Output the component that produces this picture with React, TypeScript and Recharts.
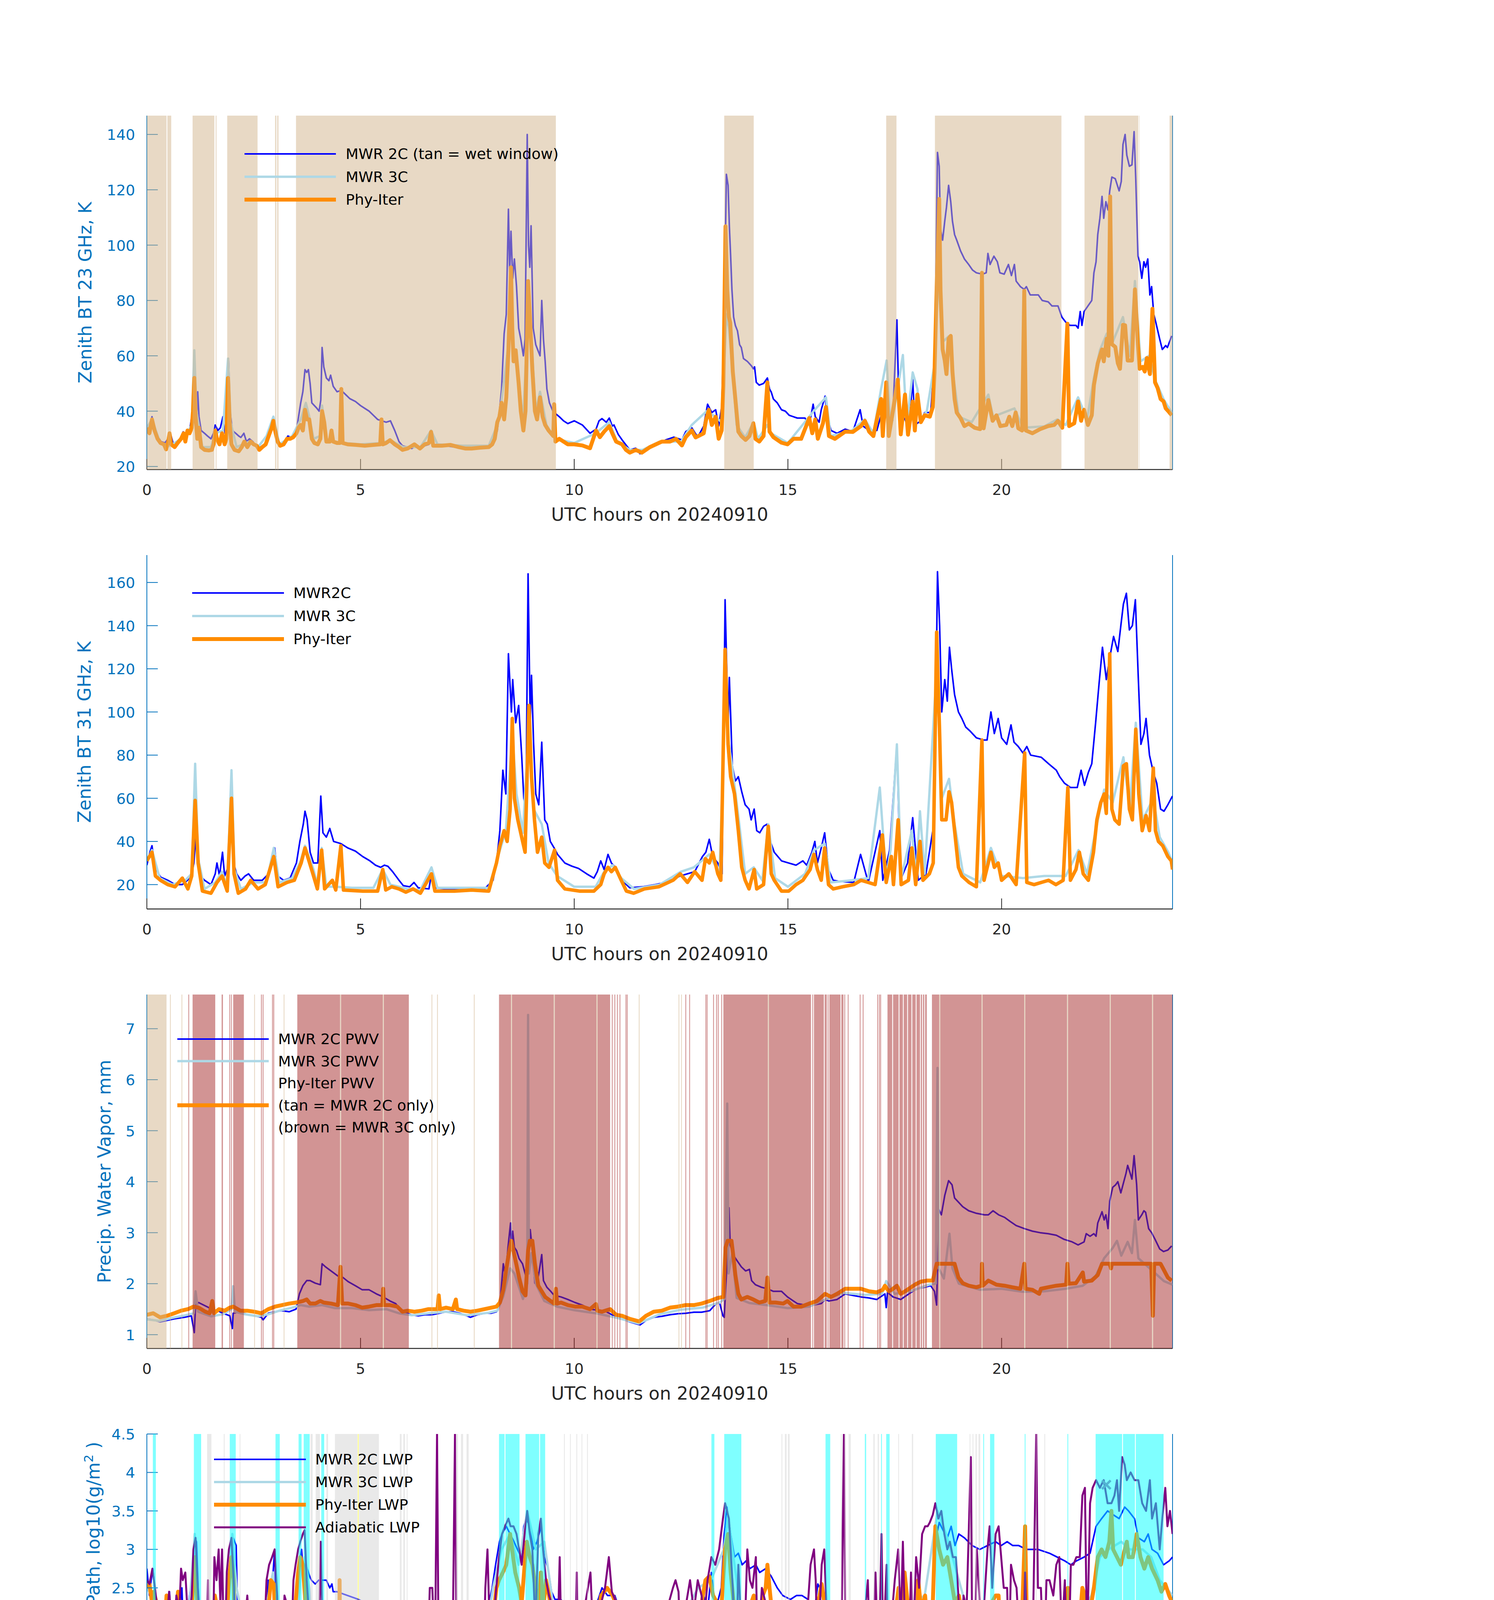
import React from "react";
import {
  ComposedChart,
  Line,
  Scatter,
  XAxis,
  YAxis,
  ReferenceArea,
  ReferenceLine,
} from "recharts";

// ---- page geometry (px) ----
const W = 3825;
const LEFT = 376;
const RIGHT_EDGE = 3002;
const TOP = 296;
const PLOT_H = 906;
const STEP = 1125;
const CHART_H = 1420;
const BOTTOM = TOP + PLOT_H;
const Y_AXIS_W = 100;
const X_AXIS_H = 100;
const MARGIN = { top: TOP, left: LEFT - Y_AXIS_W, right: W - RIGHT_EDGE, bottom: CHART_H - TOP - PLOT_H - X_AXIS_H };
const OVERLAY_MARGIN = { top: TOP, left: LEFT, right: W - RIGHT_EDGE, bottom: CHART_H - TOP - PLOT_H };

const AXIS_BLUE = "#0072BD";
const DARK = "#262626";
const BLUE = "#0000FF";
const LIGHT = "#ADD8E6";
const ORANGE = "#FF8C00";
const PURPLE = "#800080";
const FONT = "DejaVu Sans";

const X_TICKS = [0, 5, 10, 15, 20];

// ---- panel 1: zenith BT 23 GHz ----
const BT23_TICKS = [20, 40, 60, 80, 100, 120, 140];
const BT23_MWR2C: [number, number][] = [
  [0,34.5],[0.06,33],[0.12,38],[0.18,33],[0.25,31],[0.33,29],[0.42,28.5],[0.5,30],[0.55,32],[0.62,28],[0.7,27.5],[0.78,30],[0.85,32.5],[0.92,31],[1.0,33],[1.05,38],[1.11,45],[1.16,35],[1.19,47],[1.22,38],[1.27,33],[1.35,32],[1.42,31],[1.5,30],[1.56,32],[1.6,35],[1.66,33],[1.72,34],[1.78,38],[1.83,32],[1.88,34],[1.91,59],[1.95,40],[2.0,33],[2.08,32],[2.15,31],[2.2,30.5],[2.27,32],[2.33,29],[2.4,30],[2.48,29],[2.55,27.5],[2.62,27],[2.7,27],[2.77,28],[2.84,31],[2.9,34],[2.96,38],[3.02,33],[3.08,29],[3.15,27.5],[3.22,29],[3.3,31],[3.38,30.5],[3.45,31],[3.5,33],[3.55,38],[3.6,43],[3.65,47],[3.7,55],[3.74,54],[3.78,55],[3.82,50],[3.86,43],[3.92,42],[3.98,41],[4.03,40],[4.07,44],[4.1,63],[4.14,56],[4.2,52],[4.26,51],[4.3,53],[4.36,49],[4.45,47],[4.55,47.5],[4.65,46],[4.75,44.5],[4.88,43.5],[5.0,42],[5.1,41],[5.2,40],[5.3,38.5],[5.4,37],[5.5,36.5],[5.6,36],[5.7,36.5],[5.8,33],[5.9,29],[5.98,27.5],[6.1,27],[6.2,26.5],[6.3,27.5],[6.4,26.5],[6.5,27.5],[6.6,28],[6.65,32.5],[6.7,28],[6.8,27.5],[7.0,27.5],[7.2,27],[7.4,27.5],[7.6,26.5],[7.8,27],[8.0,27],[8.1,28],[8.2,33],[8.25,40],[8.3,48],[8.36,68],[8.41,75],[8.46,113],[8.49,90],[8.52,105],[8.56,88],[8.6,95],[8.65,85],[8.7,70],[8.75,66],[8.81,60],[8.85,66],[8.9,140],[8.93,100],[8.96,92],[8.99,107],[9.04,70],[9.1,64],[9.15,62],[9.2,60],[9.24,80],[9.28,66],[9.32,58],[9.36,48],[9.42,43],[9.5,40],[9.57,39],[9.65,38],[9.75,36.5],[9.85,35.5],
  [10,36.5],[10.19,35],[10.37,32],[10.51,33.5],[10.58,36.5],[10.65,37.3],[10.75,36],[10.82,37.5],[10.89,34.6],[10.93,35],[11.03,31.6],[11.12,29.6],[11.21,27.8],[11.3,26],[11.44,26.6],[11.54,24.6],[11.68,26],[11.96,28],[12.14,29.6],[12.33,30.6],[12.52,29.6],[12.61,32.6],[12.75,34],[12.89,30.6],[13.03,34.6],[13.12,42.5],[13.22,39.5],[13.31,40.5],[13.38,34.6],[13.45,41.5],[13.48,58],[13.52,84],[13.56,125.6],[13.6,121.6],[13.63,106.8],[13.66,96],[13.69,84],[13.73,74],[13.77,71],[13.82,69],[13.87,64],[13.91,63],[13.96,59],[14.05,58],[14.15,56.3],[14.19,55.3],[14.22,56],[14.26,50.4],[14.33,49.4],[14.43,50],[14.52,52],[14.57,48],[14.61,46.9],[14.66,44.4],[14.75,43],[14.85,40.5],[14.94,40],[15.03,38.5],[15.22,37.5],[15.4,37.5],[15.5,35],[15.59,42.5],[15.64,38],[15.73,36],[15.78,40.5],[15.87,45.4],[15.92,38],[16.01,33],[16.15,32],[16.34,33.5],[16.52,32.6],[16.69,40.5],[16.76,34.6],[16.9,33],[17.08,33],[17.17,38],[17.27,46],[17.36,40],[17.45,36.5],[17.55,73],[17.6,40],[17.74,37],[17.83,33.5],[17.92,51.4],[17.97,35],[18.11,36.5],[18.2,39.5],[18.34,39.5],[18.41,54.3],[18.46,84],[18.5,133.5],[18.54,128.5],[18.57,105.8],[18.62,101.8],[18.67,108.7],[18.71,113.7],[18.76,121.6],[18.81,115.7],[18.85,108.7],[18.9,103.8],[18.95,101.8],[19.04,97.9],[19.13,95],[19.23,93],[19.32,91],[19.41,90],[19.55,89.5],[19.64,90],[19.68,97],[19.73,93],[19.82,96],[19.9,94],[19.96,90],[20.06,89.5],[20.16,93],[20.23,89],[20.3,93],[20.34,87],[20.44,85],[20.53,84],[20.58,85],[20.67,82],[20.86,82],[20.95,80],[21.09,79.5],[21.18,78],[21.32,78],[21.41,74],[21.51,72],[21.6,71],[21.74,71],[21.79,70],[21.84,76],[21.88,71],[21.93,76],[22.02,78],[22.11,80],[22.16,90],[22.21,94],[22.25,103.8],[22.3,109.7],[22.35,117.6],[22.39,109.7],[22.44,115.7],[22.49,112.7],[22.53,119.6],[22.58,124.6],[22.66,124],[22.75,119.6],[22.8,123],[22.84,136.4],[22.89,140],[22.93,132.5],[22.99,128.5],[23.05,129],[23.1,141],[23.14,123.6],[23.19,96],[23.23,94],[23.28,88],[23.33,94],[23.37,92],[23.42,95],[23.47,82],[23.51,85],[23.56,75],[23.61,72],[23.7,66],[23.76,62.3],[23.84,63.7],[23.88,63],[23.98,67.2],
];
const BT23_MWR3C: [number, number][] = [
  [0,34],[0.12,37],[0.3,29],[0.45,27],[0.6,28],[0.9,31],[1.05,35],[1.11,62],[1.16,40],[1.3,27],[1.5,27],[1.6,32],[1.78,33],[1.9,59],[1.96,36],[2.1,27],[2.4,29],[2.6,27],[2.8,31],[2.96,38],[3.1,28],[3.4,31],[3.6,37],[3.72,43],[3.8,38],[3.9,30],[4.05,31],[4.1,42],[4.2,30],[4.4,29],[4.6,28.5],[5.0,28],[5.5,28.5],[5.7,29.5],[6.0,27],[6.4,27],[6.65,33],[6.8,28],[7.4,27.5],[8.0,27.5],[8.2,35],[8.3,44],[8.46,64],[8.52,72],[8.6,60],[8.7,52],[8.8,36],[8.92,75],[8.98,70],[9.1,40],[9.2,47],[9.35,35],[9.55,30],[10.0,28.5],[10.5,32],[10.82,36],[11.0,29],[11.3,26],[11.6,26],[12.0,29],[12.5,29],[12.75,35],[13.1,40],[13.3,38],[13.45,36],[13.52,60],[13.56,75],[13.62,70],[13.7,55],[13.8,35],[14.0,30.5],[14.2,36],[14.3,30],[14.52,35],[14.6,32],[15.0,28.5],[15.5,38],[15.6,40],[15.89,45],[16.0,31],[16.5,33],[16.8,37],[17.0,32],[17.18,48],[17.31,58.3],[17.4,33],[17.57,48],[17.69,60.3],[17.78,35],[17.92,54],[18.03,48],[18.1,37],[18.25,40],[18.43,57],[18.5,92],[18.55,80],[18.62,65],[18.76,67],[18.85,55],[19.0,38],[19.3,36],[19.69,46],[19.8,38],[20.3,41],[20.5,34],[21.0,34.5],[21.3,37],[21.5,35],[21.79,45],[22.0,37],[22.16,52],[22.3,62],[22.46,68],[22.6,65],[22.84,74],[23.0,60],[23.12,87],[23.25,58],[23.45,60],[23.6,51],[23.8,44],[24,39],
];
const BT23_PHYITER: [number, number][] = [
  [0,34],[0.06,32],[0.12,37],[0.18,33],[0.25,30],[0.32,28.5],[0.4,28],[0.45,26.2],[0.5,29],[0.53,32],[0.57,28],[0.65,27],[0.72,28.5],[0.8,30],[0.86,32],[0.9,29],[0.95,33],[1.0,32],[1.05,34],[1.08,40],[1.11,52],[1.14,38],[1.18,30],[1.22,34],[1.27,27],[1.35,26],[1.45,25.8],[1.52,26],[1.56,28],[1.6,33],[1.64,30],[1.7,28],[1.76,32],[1.82,28],[1.86,30],[1.9,52],[1.94,35],[1.98,28],[2.05,26],[2.15,25.5],[2.22,27],[2.28,29],[2.35,27],[2.43,29],[2.5,28],[2.57,27.5],[2.63,26],[2.7,27],[2.78,28],[2.85,31],[2.92,34],[2.96,36.5],[3.0,33],[3.06,29],[3.12,27.5],[3.2,28],[3.28,30],[3.35,30],[3.42,30.5],[3.5,32],[3.55,34],[3.6,35],[3.65,33],[3.7,40.5],[3.75,37],[3.8,37],[3.86,30],[3.92,28.5],[4.0,28],[4.06,30],[4.1,40],[4.15,36],[4.2,29],[4.28,29],[4.32,33],[4.36,29],[4.45,28.5],[4.52,28.5],[4.55,48],[4.58,28.5],[4.7,28],[4.9,27.8],[5.1,27.5],[5.3,27.8],[5.46,28],[5.49,37],[5.52,28],[5.6,28.5],[5.69,29.5],[5.8,28],[5.9,27],[5.98,26],[6.1,26.5],[6.26,28],[6.39,26.5],[6.5,28],[6.6,28.5],[6.65,32.5],[6.7,27.5],[6.9,27.5],[7.1,27.8],[7.3,27],[7.45,26.5],[7.6,26.5],[7.8,26.8],[8.0,27],[8.08,28],[8.14,30],[8.2,36],[8.25,38],[8.3,43],[8.36,37],[8.41,45],[8.46,62],[8.52,92],[8.55,70],[8.58,58],[8.63,62],[8.7,50],[8.75,40],[8.81,33],[8.86,40],[8.92,87],[8.97,72],[9.02,55],[9.08,40],[9.13,37],[9.2,45],[9.26,38],[9.32,35],[9.4,33],[9.51,31],[9.53,42.5],[9.56,29],[9.65,30],[9.85,28],
  [10.0,28],[10.19,27.6],[10.37,26.6],[10.51,33],[10.6,30.6],[10.7,32.6],[10.82,34.6],[10.89,32],[10.98,29],[11.12,28],[11.21,26],[11.3,25],[11.44,26],[11.58,25],[11.77,27],[12.05,29],[12.24,29],[12.38,30],[12.52,27.6],[12.61,30.6],[12.75,33],[12.84,30.5],[13.03,32],[13.08,36.5],[13.15,40.5],[13.22,35],[13.31,38],[13.38,30],[13.45,33],[13.49,49.4],[13.54,106.8],[13.58,84],[13.62,74],[13.65,72],[13.71,54.3],[13.77,44.4],[13.84,32.6],[13.91,31],[14.01,29.6],[14.1,31],[14.19,35.6],[14.24,30],[14.33,29],[14.43,31],[14.52,50.4],[14.57,32.6],[14.66,30.6],[14.85,28.6],[14.99,28],[15.13,30],[15.31,30],[15.5,37.5],[15.57,32],[15.64,37],[15.7,30],[15.82,35.6],[15.89,41.5],[15.96,31],[16.1,30],[16.34,32.6],[16.52,32.5],[16.71,34.6],[16.8,36.5],[16.9,32.6],[17.0,31],[17.18,44.4],[17.22,31],[17.3,50.4],[17.36,31],[17.46,40.5],[17.57,51.4],[17.64,31.6],[17.74,46],[17.81,31.5],[17.92,43.5],[17.97,33],[18.03,46],[18.11,36],[18.2,38.5],[18.32,38],[18.39,41.5],[18.43,54],[18.48,84],[18.54,116.7],[18.57,84],[18.62,62.3],[18.67,58.3],[18.71,53.4],[18.76,66.2],[18.81,67.2],[18.85,54.3],[18.9,44.4],[18.95,39.5],[19.04,37.5],[19.13,34.6],[19.23,35.5],[19.37,34],[19.5,33.5],[19.54,90],[19.58,33.8],[19.69,44],[19.79,36.5],[19.88,38.5],[19.97,34.6],[20.11,35],[20.18,38],[20.25,34.6],[20.33,39.5],[20.39,33.8],[20.48,33],[20.53,83.5],[20.57,33],[20.72,32],[20.9,33.5],[21.09,34.6],[21.23,35],[21.32,36.5],[21.42,34],[21.54,71.6],[21.58,34.6],[21.7,35.6],[21.79,43.5],[21.86,36.5],[21.93,40.5],[22.02,35],[22.11,38.5],[22.16,49.4],[22.25,57.3],[22.35,62.3],[22.39,58],[22.46,66.2],[22.5,60],[22.54,117.6],[22.58,64.2],[22.66,63.2],[22.72,57.3],[22.77,55.3],[22.84,71.2],[22.89,71],[22.95,58.3],[23.05,58.3],[23.12,84],[23.19,64.2],[23.23,55.3],[23.3,56],[23.35,54.3],[23.4,59.2],[23.47,53.4],[23.53,77],[23.59,50.4],[23.65,48.4],[23.72,44.4],[23.79,43.5],[23.84,41],[23.9,40],[23.98,38.5],
];
const WET_WINDOW: [number, number][] = [
  [0,0.46],[0.48,0.57],[1.07,1.58],[1.61,1.63],[1.88,2.59],[3.0,3.03],[3.05,3.08],[3.49,9.57],[13.51,14.2],[17.3,17.54],[18.44,21.4],[21.94,23.2],[23.22,23.23],[23.93,24],
];

// ---- panel 2: zenith BT 31 GHz ----
const BT31_TICKS = [20, 40, 60, 80, 100, 120, 140, 160];
const BT31_MWR2C: [number, number][] = [
  [0,29],[0.07,35],[0.12,38],[0.19,28],[0.32,23.5],[0.49,22],[0.66,20],[0.83,20],[0.95,22],[1.05,25],[1.1,30],[1.16,46],[1.2,35],[1.25,24],[1.35,22],[1.5,20],[1.6,25],[1.64,30],[1.7,24],[1.77,35],[1.82,24],[1.9,28],[1.98,73],[2.03,30],[2.1,25],[2.2,22],[2.3,24],[2.38,25],[2.5,22],[2.7,22],[2.85,25],[2.99,37],[3.06,24],[3.2,22],[3.35,23],[3.5,30],[3.58,40],[3.66,48],[3.7,54],[3.75,50],[3.82,35],[3.9,30],[4.0,30],[4.07,61],[4.12,44],[4.2,42],[4.28,46],[4.37,40],[4.54,39],[4.7,37],[4.88,35.5],[5.05,33],[5.22,31],[5.35,29],[5.47,28],[5.56,29],[5.64,28.5],[5.75,26],[5.9,22],[6.0,19.5],[6.15,19],[6.25,21],[6.35,18.5],[6.6,18],[6.66,25],[6.72,18.5],[7.0,18],[7.5,18],[7.9,18],[8.1,22],[8.18,30],[8.26,45],[8.33,73],[8.4,62],[8.46,127],[8.53,100],[8.56,115],[8.63,95],[8.7,103],[8.77,80],[8.82,60],[8.87,55],[8.92,164],[8.97,95],[9.0,117],[9.05,85],[9.1,62],[9.17,57],[9.24,86],[9.31,50],[9.37,48],[9.44,40],[9.53,37],[9.61,34],[9.78,30],[9.95,28.5],[10.1,27.5],[10.29,25],[10.46,23],[10.54,26],[10.62,31],[10.7,27],[10.79,34],[10.87,30],[10.96,28],[11.1,22],[11.22,20],[11.3,18.5],[11.6,19],[11.9,20],[12.14,21],[12.48,24],[12.82,26],[13.0,33],[13.08,35],[13.16,41],[13.24,33],[13.36,30],[13.46,25],[13.53,152],[13.6,95],[13.63,116],[13.7,75],[13.77,68],[13.84,70],[13.92,63],[14.0,57],[14.09,55],[14.14,50],[14.21,55],[14.27,45],[14.34,44],[14.43,47],[14.51,48],[14.59,40],[14.68,35],[14.85,31],[15.02,30],[15.19,29],[15.35,31],[15.44,29],[15.56,35],[15.63,40],[15.69,30],[15.78,37],[15.86,44],[15.95,27],[16.06,22],[16.2,21.5],[16.54,21],[16.7,34],[16.88,21],[17.15,45],[17.22,22],[17.38,36],[17.55,85],[17.63,22],[17.8,30],[17.92,51],[18.05,22],[18.23,25],[18.43,50],[18.5,165],[18.55,140],[18.6,100],[18.67,115],[18.73,105],[18.78,130],[18.83,120],[18.9,108],[18.99,100],[19.07,97],[19.16,93],[19.27,91],[19.41,88],[19.58,87],[19.66,87],[19.75,100],[19.83,90],[19.92,97],[20.0,88],[20.12,85],[20.22,94],[20.29,86],[20.39,84],[20.5,81],[20.59,84],[20.68,80],[20.93,79],[21.1,76],[21.28,73],[21.36,70],[21.47,67],[21.61,65],[21.77,65],[21.86,73],[21.94,66],[22.03,72],[22.11,76],[22.2,95],[22.28,113],[22.36,130],[22.45,115],[22.53,125],[22.62,135],[22.72,128],[22.79,140],[22.85,150],[22.92,155],[22.99,138],[23.06,140],[23.13,152],[23.2,115],[23.26,85],[23.33,90],[23.38,97],[23.46,80],[23.55,72],[23.63,67],[23.72,55],[23.8,54],[23.89,57],[23.97,60],[24,61],
];
const BT31_MWR3C: [number, number][] = [
  [0,31],[0.12,36],[0.3,23],[0.6,20],[0.9,22],[1.05,25],[1.13,76],[1.2,32],[1.35,18],[1.6,21],[1.76,26],[1.88,19],[1.98,73],[2.05,27],[2.2,18],[2.5,21],[2.8,21],[2.97,37],[3.1,21],[3.4,23],[3.6,31],[3.7,38],[3.9,27],[4.0,19],[4.09,37],[4.2,19],[4.4,19],[4.8,18.5],[5.3,18.5],[5.52,27],[5.7,20],[6.1,18],[6.4,17.5],[6.66,28],[6.8,18.5],[7.5,18.5],[8.0,18.5],[8.2,32],[8.4,45],[8.55,90],[8.65,62],[8.8,44],[8.94,95],[9.05,55],[9.24,48],[9.4,30],[9.6,24],[10.0,19],[10.5,19],[10.7,26],[10.9,29],[11.1,23],[11.4,18],[12.0,20],[12.5,26],[12.8,28],[13.16,34],[13.4,25],[13.53,105],[13.6,88],[13.7,74],[13.85,50],[14.0,25],[14.2,28],[14.4,22],[14.54,48],[14.7,23],[15.0,19],[15.4,25],[15.61,36],[15.86,39],[16.0,21],[16.5,22],[16.88,23],[17.15,65],[17.3,23],[17.4,36],[17.55,85],[17.65,23],[17.9,45],[18.0,24],[18.09,54],[18.2,25],[18.48,120],[18.6,60],[18.77,69],[18.9,48],[19.1,25],[19.5,21],[19.75,37],[20.0,24],[20.5,23],[21.0,24],[21.5,24],[21.8,36],[22.0,25],[22.2,45],[22.4,64],[22.6,58],[22.85,79],[23.0,56],[23.14,95],[23.3,50],[23.55,60],[23.7,42],[23.9,35],[24,30],
];
const BT31_PHYITER: [number, number][] = [
  [0,31],[0.12,35],[0.2,24],[0.32,22],[0.49,20],[0.66,19],[0.83,23],[0.96,18],[1.05,24],[1.13,59],[1.2,30],[1.3,17],[1.5,16],[1.64,21],[1.76,24],[1.88,17],[1.98,60],[2.04,25],[2.14,16],[2.31,18],[2.43,22],[2.6,18],[2.77,20],[2.97,33],[3.07,19],[3.28,21],[3.45,22],[3.61,30],[3.7,37],[3.87,26],[3.99,18],[4.09,36],[4.16,18],[4.34,22],[4.42,17.5],[4.54,38],[4.6,17.5],[5.05,17],[5.4,17],[5.52,27],[5.59,17.5],[5.73,19],[5.9,18],[6.06,16.5],[6.23,18],[6.4,16],[6.66,25],[6.74,17],[7.2,17],[7.6,17.5],[8.0,17],[8.18,30],[8.26,38],[8.36,45],[8.43,40],[8.5,55],[8.55,97],[8.6,60],[8.68,50],[8.77,42],[8.85,35],[8.94,103],[9.0,70],[9.07,50],[9.14,35],[9.24,42],[9.31,30],[9.41,28],[9.54,36],[9.61,22],[9.78,18],[10.12,17],[10.46,17],[10.62,20],[10.7,25],[10.79,28],[10.87,26],[10.96,28],[11.1,22],[11.22,17],[11.39,16],[11.64,18],[11.98,19],[12.31,22],[12.48,25],[12.65,21],[12.82,26],[12.99,22],[13.07,32],[13.16,30],[13.24,35],[13.36,25],[13.43,22],[13.53,129],[13.6,85],[13.66,70],[13.75,62],[13.84,45],[13.92,28],[14.0,22],[14.09,18],[14.21,27],[14.27,18],[14.43,20],[14.54,47],[14.61,25],[14.68,22],[14.85,17],[15.02,17],[15.19,20],[15.35,22],[15.52,27],[15.61,34],[15.69,27],[15.78,22],[15.86,37],[15.95,20],[16.06,18],[16.28,19],[16.54,20],[16.71,22],[16.88,21],[17.04,20],[17.21,43],[17.3,21],[17.42,33],[17.47,20],[17.58,50],[17.65,20],[17.82,22],[17.9,37],[17.99,20],[18.09,40],[18.16,22],[18.31,25],[18.4,30],[18.48,137],[18.55,90],[18.6,50],[18.7,50],[18.77,63],[18.83,58],[18.9,45],[18.99,28],[19.07,24],[19.24,21],[19.41,19],[19.54,87],[19.59,22],[19.75,35],[19.83,28],[19.92,30],[20.0,22],[20.17,25],[20.34,20],[20.54,81],[20.59,21],[20.76,20],[20.93,21],[21.1,22],[21.27,20],[21.44,22],[21.55,65],[21.61,22],[21.74,27],[21.82,35],[21.91,25],[22.03,22],[22.15,35],[22.23,50],[22.32,58],[22.4,62],[22.45,53],[22.53,127],[22.58,55],[22.65,50],[22.75,48],[22.85,75],[22.92,76],[22.99,55],[23.06,50],[23.14,92],[23.21,62],[23.29,45],[23.38,52],[23.46,45],[23.55,74],[23.6,45],[23.67,40],[23.77,38],[23.89,33],[23.97,31],[24,27],
];

// ---- panel 3: precipitable water vapor ----
const PWV_TICKS = [1, 2, 3, 4, 5, 6, 7];
const PWV_MWR2C: [number, number][] = [
  [0,1.31],[0.15,1.29],[0.31,1.25],[0.47,1.28],[0.64,1.31],[0.88,1.34],[1.04,1.37],[1.11,1.04],[1.14,1.58],[1.21,1.63],[1.33,1.58],[1.45,1.53],[1.53,1.45],[1.66,1.47],[1.78,1.42],[1.94,1.37],[2.0,1.12],[2.02,1.42],[2.19,1.45],[2.35,1.39],[2.51,1.37],[2.68,1.34],[2.72,1.29],[2.84,1.42],[3.0,1.45],[3.16,1.47],[3.33,1.45],[3.49,1.5],[3.57,1.8],[3.65,1.96],[3.74,2.06],[3.82,2.06],[3.94,2.01],[4.06,1.98],[4.1,2.39],[4.18,2.33],[4.31,2.25],[4.47,2.15],[4.59,2.12],[4.71,2.04],[4.88,1.96],[5.04,1.88],[5.2,1.88],[5.37,1.8],[5.53,1.74],[5.69,1.66],[5.82,1.61],[5.9,1.53],[6.02,1.45],[6.18,1.39],[6.35,1.37],[6.51,1.39],[6.67,1.39],[6.84,1.42],[7.0,1.45],[7.16,1.45],[7.32,1.42],[7.49,1.37],[7.57,1.34],[7.73,1.39],[7.9,1.42],[8.06,1.42],[8.18,1.45],[8.26,1.58],[8.34,2.39],[8.39,2.12],[8.45,2.71],[8.51,3.19],[8.53,2.65],[8.56,3.03],[8.6,2.71],[8.65,2.65],[8.71,2.49],[8.79,2.39],[8.86,2.17],[8.92,2.5],[8.97,3.06],[9.02,2.65],[9.08,2.01],[9.14,2.06],[9.18,2.24],[9.24,2.57],[9.28,2.06],[9.36,1.93],[9.45,1.85],[9.53,1.77],[9.69,1.74],[9.85,1.69],[10.02,1.63],
  [10.19,1.58],[10.37,1.5],[10.56,1.48],[10.75,1.45],[10.93,1.37],[11.12,1.31],[11.3,1.25],[11.54,1.19],[11.68,1.28],[11.86,1.34],[12.05,1.36],[12.24,1.39],[12.42,1.41],[12.61,1.42],[12.8,1.44],[12.98,1.44],[13.17,1.47],[13.31,1.6],[13.4,1.63],[13.48,1.37],[13.51,1.34],[13.54,1.85],[13.59,2.65],[13.62,3.49],[13.65,2.76],[13.69,2.65],[13.73,2.55],[13.82,2.44],[13.91,2.33],[14.01,2.25],[14.1,2.28],[14.15,2.06],[14.24,1.98],[14.38,1.93],[14.52,1.9],[14.66,1.85],[14.85,1.85],[14.99,1.74],[15.13,1.66],[15.22,1.61],[15.41,1.58],[15.59,1.58],[15.78,1.61],[15.87,1.69],[15.96,1.66],[16.15,1.69],[16.34,1.8],[16.52,1.77],[16.71,1.74],[16.9,1.72],[17.08,1.69],[17.27,1.8],[17.3,1.53],[17.33,1.83],[17.46,1.74],[17.64,1.69],[17.83,1.8],[18.01,1.9],[18.2,1.93],[18.34,1.96],[18.43,1.85],[18.48,1.58],[18.53,3.46],[18.59,3.35],[18.67,3.73],[18.76,4.02],[18.84,3.94],[18.9,3.68],[18.99,3.6],[19.09,3.51],[19.23,3.43],[19.41,3.38],[19.6,3.35],[19.69,3.35],[19.8,3.43],[19.93,3.35],[20.07,3.3],[20.2,3.22],[20.34,3.14],[20.53,3.08],[20.72,3.03],[20.9,3.0],[21.09,2.98],[21.28,2.95],[21.46,2.87],[21.65,2.82],[21.79,2.76],[21.93,2.82],[21.98,2.98],[22.07,2.93],[22.16,2.98],[22.21,2.93],[22.25,3.19],[22.35,3.41],[22.4,3.25],[22.44,3.35],[22.49,3.08],[22.53,3.62],[22.6,3.89],[22.67,3.94],[22.72,4.0],[22.79,3.78],[22.84,3.94],[22.91,4.16],[22.95,4.32],[23.01,4.16],[23.05,4.05],[23.1,4.51],[23.16,3.94],[23.2,3.25],[23.28,3.35],[23.33,3.43],[23.37,3.4],[23.44,3.08],[23.51,3.0],[23.59,2.87],[23.7,2.68],[23.79,2.63],[23.89,2.66],[23.98,2.74],
];
const PWV_MWR3C: [number, number][] = [
  [0,1.3],[0.3,1.27],[0.6,1.33],[0.9,1.38],[1.1,1.42],[1.14,1.85],[1.2,1.45],[1.5,1.36],[1.78,1.4],[1.98,1.5],[2.02,1.95],[2.06,1.45],[2.3,1.4],[2.6,1.36],[2.84,1.4],[3.1,1.47],[3.4,1.53],[3.6,1.58],[3.8,1.55],[4.1,1.58],[4.4,1.52],[4.8,1.52],[5.2,1.48],[5.6,1.5],[5.9,1.42],[6.2,1.38],[6.6,1.42],[7.0,1.45],[7.5,1.38],[8.0,1.43],[8.2,1.47],[8.34,1.75],[8.5,2.3],[8.6,2.2],[8.8,1.7],[8.9,2.0],[8.92,7.27],[8.94,2.2],[9.0,2.6],[9.1,2.0],[9.3,1.66],[9.6,1.55],[10.0,1.48],[10.5,1.42],[11.0,1.33],[11.5,1.22],[12.0,1.4],[12.5,1.49],[13.0,1.53],[13.4,1.63],[13.52,1.7],[13.58,5.53],[13.61,2.2],[13.7,2.6],[13.8,1.72],[14.1,1.62],[14.5,1.58],[15.0,1.52],[15.5,1.55],[15.9,1.7],[16.3,1.82],[16.8,1.78],[17.2,1.8],[17.3,2.05],[17.5,1.8],[17.9,1.86],[18.3,1.98],[18.46,2.0],[18.5,6.23],[18.53,2.3],[18.65,2.1],[18.78,2.98],[18.85,2.3],[19.0,2.0],[19.5,1.88],[20.0,1.9],[20.5,1.84],[21.0,1.85],[21.5,1.9],[21.9,1.96],[22.2,2.15],[22.4,2.5],[22.6,2.7],[22.7,2.84],[22.8,2.55],[22.95,2.82],[23.05,2.6],[23.12,3.25],[23.2,2.5],[23.4,2.35],[23.6,2.2],[23.8,2.05],[24,1.98],
];
const PWV_PHYITER: [number, number][] = [
  [0,1.39],[0.15,1.42],[0.31,1.34],[0.47,1.37],[0.64,1.42],[0.8,1.47],[0.96,1.5],[1.09,1.55],[1.21,1.53],[1.37,1.45],[1.47,1.42],[1.53,1.66],[1.57,1.42],[1.69,1.5],[1.82,1.47],[1.94,1.53],[2.02,1.55],[2.19,1.47],[2.35,1.47],[2.51,1.45],[2.68,1.42],[2.84,1.5],[3.0,1.55],[3.16,1.58],[3.33,1.61],[3.49,1.63],[3.65,1.66],[3.74,1.69],[3.82,1.61],[3.94,1.61],[4.06,1.66],[4.14,1.63],[4.31,1.61],[4.47,1.58],[4.53,2.33],[4.57,1.61],[4.71,1.61],[4.88,1.58],[5.04,1.53],[5.2,1.55],[5.37,1.58],[5.51,1.58],[5.53,1.9],[5.55,1.58],[5.69,1.58],[5.86,1.55],[5.98,1.45],[6.1,1.47],[6.26,1.45],[6.43,1.47],[6.59,1.5],[6.8,1.5],[6.83,1.77],[6.86,1.5],[7.0,1.53],[7.16,1.5],[7.23,1.69],[7.26,1.5],[7.41,1.47],[7.57,1.45],[7.73,1.47],[7.9,1.5],[8.06,1.53],[8.18,1.55],[8.26,1.63],[8.34,1.88],[8.4,2.23],[8.47,2.6],[8.53,2.84],[8.59,2.6],[8.63,2.44],[8.71,2.12],[8.79,1.85],[8.86,1.77],[8.92,2.65],[8.96,2.84],[9.02,2.84],[9.08,2.39],[9.16,1.96],[9.24,1.85],[9.32,1.74],[9.4,1.69],[9.53,1.61],[9.57,1.9],[9.6,1.61],[9.69,1.63],[9.85,1.58],[10.02,1.55],
  [10.19,1.55],[10.37,1.5],[10.51,1.6],[10.54,1.47],[10.65,1.45],[10.84,1.5],[10.98,1.39],[11.12,1.37],[11.3,1.31],[11.52,1.26],[11.68,1.37],[11.86,1.45],[12.05,1.47],[12.24,1.53],[12.42,1.55],[12.61,1.58],[12.8,1.58],[12.98,1.61],[13.17,1.66],[13.36,1.72],[13.49,1.74],[13.54,2.71],[13.59,2.84],[13.68,2.84],[13.73,2.49],[13.77,2.17],[13.84,1.8],[13.91,1.69],[14.05,1.74],[14.19,1.69],[14.33,1.63],[14.47,1.66],[14.52,2.12],[14.57,1.63],[14.71,1.63],[14.89,1.61],[14.99,1.66],[15.13,1.55],[15.31,1.55],[15.5,1.61],[15.68,1.66],[15.87,1.8],[16.01,1.74],[16.15,1.8],[16.34,1.9],[16.52,1.9],[16.71,1.9],[16.9,1.85],[17.08,1.83],[17.22,1.88],[17.27,1.96],[17.36,1.85],[17.46,1.9],[17.55,1.96],[17.64,1.8],[17.74,1.85],[17.83,1.9],[17.97,1.98],[18.11,2.04],[18.25,2.06],[18.39,2.06],[18.48,2.39],[18.53,2.39],[18.9,2.39],[18.99,2.12],[19.09,2.01],[19.23,1.96],[19.41,1.93],[19.53,1.96],[19.54,2.39],[19.56,1.96],[19.69,2.06],[19.88,1.98],[20.07,1.96],[20.25,1.93],[20.44,1.9],[20.53,2.39],[20.56,1.9],[20.72,1.88],[20.88,1.8],[20.92,1.9],[21.09,1.93],[21.28,1.96],[21.51,1.98],[21.54,2.39],[21.57,2.0],[21.74,2.01],[21.9,2.22],[21.93,2.04],[22.11,2.06],[22.25,2.17],[22.35,2.39],[22.53,2.39],[22.56,2.3],[22.58,2.39],[23.5,2.39],[23.54,1.37],[23.57,2.39],[23.72,2.39],[23.79,2.28],[23.89,2.12],[23.98,2.06],
];
const PWV_TAN: [number, number][] = [
  [0,0.46],[0.54,0.56],[0.81,0.83],[2.51,2.53],[3.2,3.22],[4.52,4.545],[5.52,5.545],[6.66,6.68],[6.79,6.81],[7.65,7.67],[8.52,8.545],[9.52,9.545],[10.52,10.545],[11.51,11.53],[12.44,12.46],[12.5,12.52],[14.53,14.555],[18.54,18.565],[19.53,19.555],[20.53,20.555],[21.53,21.555],[22.53,22.555],[23.52,23.545],
];
const PWV_BROWN: [number, number][] = [
  [0.97,0.99],[1.07,1.6],[1.75,1.78],[1.93,1.95],[1.97,1.99],[2.02,2.27],[2.67,2.69],[2.71,2.73],[2.93,2.95],[2.96,2.98],[3.52,4.52],[4.545,5.52],[5.545,6.13],[8.24,8.52],[8.545,9.52],[9.545,10.52],[10.545,10.84],[10.88,10.9],[10.94,10.96],[11.0,11.02],[11.06,11.08],[11.2,11.22],[11.23,11.25],[12.6,12.62],[12.69,12.71],[13.07,13.09],[13.1,13.12],[13.25,13.27],[13.32,13.34],[13.36,13.38],[13.44,13.46],[13.49,14.53],[14.555,15.54],[15.57,15.59],[15.61,15.84],[15.86,15.91],[15.93,15.95],[15.97,16.23],[16.25,16.3],[16.32,16.34],[16.4,16.42],[16.68,16.7],[16.75,16.77],[17.09,17.11],[17.13,17.15],[17.16,17.18],[17.33,17.44],[17.46,17.59],[17.61,17.69],[17.71,17.79],[17.81,17.89],[17.91,17.99],[18.01,18.09],[18.11,18.14],[18.16,18.19],[18.21,18.25],[18.37,18.54],[18.565,19.53],[19.555,20.53],[20.555,21.53],[21.555,22.53],[22.555,23.52],[23.545,24],
];

// ---- panel 4: log10 liquid water path ----
const LWP_TICKS = [0, 0.5, 1, 1.5, 2, 2.5, 3, 3.5, 4, 4.5];
const LWP_MWR2C: [number, number][] = [
  [0,2.75],[0.06,2.4],[0.1,2.6],[0.14,2.75],[0.19,2.45],[0.23,2.2],[0.31,2.1],[0.36,2.0],[0.41,2.05],[0.46,1.7],[0.5,2.1],[0.53,2.45],[0.58,1.9],[0.62,1.45],[0.67,2.3],[0.73,2.45],[0.78,2.2],[0.82,2.5],[0.86,1.9],[0.95,2.1],[1.0,2.4],[1.05,2.6],[1.12,3.15],[1.16,3.1],[1.2,2.5],[1.24,2.1],[1.31,2.0],[1.37,2.05],[1.45,1.85],[1.6,1.9],[1.83,1.85],[1.96,2.9],[2.02,3.15],[2.09,3.05],[2.13,2.0],[2.21,2.1],[2.27,2.2],[2.34,1.95],[2.42,1.8],[2.5,1.65],[2.55,1.4],[2.59,2.1],[2.68,1.75],[2.76,1.5],[2.84,2.6],[2.93,2.5],[2.99,3.0],[3.05,1.8],[3.11,1.2],[3.18,1.9],[3.27,1.9],[3.35,2.0],[3.44,1.7],[3.52,2.4],[3.56,2.8],[3.62,3.0],[3.67,2.6],[3.7,2.85],[3.75,2.75],[3.81,2.65],[3.85,2.6],[3.94,2.55],[4.02,2.6],[4.2,2.6],[4.28,2.5],[4.33,2.55],[4.36,2.45],[4.45,2.45],[4.7,2.4],[4.95,2.35],[5.12,2.3],[5.29,2.2],[5.42,2.15],[5.46,2.25],[5.59,2.15],[5.67,2.2],[5.76,2.1],[5.84,2.0],[5.93,1.9],[6.01,1.9],[6.1,1.65],[6.18,1.8],[6.3,1.75],[6.39,1.5],[6.8,1.5],[7.07,1.4],[7.23,1.3],[7.57,1.4],[7.74,1.6],[8.08,2.5],[8.16,2.8],[8.25,3.1],[8.31,3.2],[8.41,3.3],[8.5,3.2],[8.59,3.1],[8.67,3.0],[8.76,2.9],[8.82,3.3],[8.88,3.4],[8.96,3.3],[9.04,3.0],[9.13,3.1],[9.22,3.3],[9.3,2.9],[9.39,2.75],[9.47,2.45],[9.55,2.35],[9.68,2.35],[9.85,2.25],[10.02,2.2],[10.19,2.2],[10.36,2.1],[10.53,2.3],[10.65,2.5],[10.78,2.4],[10.95,2.4],[11.07,2.2],
  [11.18,1.9],[11.27,1.95],[11.36,1.8],[11.49,1.75],[11.63,1.85],[11.76,1.7],[11.9,1.9],[12.08,2.0],[12.22,2.15],[12.35,2.2],[12.44,2.0],[12.62,2.1],[12.8,2.3],[12.94,2.0],[13.03,2.4],[13.12,2.2],[13.21,2.7],[13.3,2.2],[13.44,2.5],[13.51,3.2],[13.57,3.55],[13.66,3.2],[13.75,2.9],[13.84,2.95],[13.93,2.8],[14.02,2.85],[14.11,2.75],[14.25,2.8],[14.34,2.7],[14.48,2.75],[14.61,2.65],[14.75,2.5],[14.88,2.4],[15.06,2.35],[15.2,2.4],[15.33,2.4],[15.47,2.35],[15.61,2.15],[15.7,2.55],[15.79,2.45],[15.92,2.3],[16.06,1.85],[16.19,1.8],[16.33,1.85],[16.51,1.6],[16.6,1.75],[16.74,1.5],[16.96,1.6],[17.23,1.7],[17.5,1.9],[17.73,2.0],[17.96,2.1],[18.14,1.95],[18.27,1.8],[18.36,2.25],[18.45,3.1],[18.54,3.35],[18.63,3.25],[18.73,3.15],[18.82,3.3],[18.91,3.05],[19.0,3.2],[19.13,3.15],[19.31,3.05],[19.49,3.0],[19.67,3.05],[19.86,3.1],[19.99,3.05],[20.13,3.1],[20.26,3.05],[20.4,3.05],[20.58,3.0],[20.85,3.0],[21.12,2.95],[21.3,2.9],[21.48,2.85],[21.62,2.8],[21.75,2.85],[21.93,2.9],[22.07,2.95],[22.21,3.3],[22.34,3.4],[22.48,3.5],[22.61,3.45],[22.75,3.4],[22.88,3.55],[22.97,3.5],[23.11,3.4],[23.2,3.15],[23.34,3.1],[23.43,3.2],[23.52,3.0],[23.65,2.95],[23.79,2.8],[23.92,2.85],[24.0,2.9],
];
const LWP_MWR3C: [number, number][] = [
  [0,2.5],[0.3,2.2],[0.6,1.6],[0.8,2.3],[1.0,2.3],[1.12,3.2],[1.2,2.3],[1.3,1.7],[1.45,1.5],[1.6,2.0],[1.8,1.7],[2.0,3.2],[2.1,2.5],[2.3,1.9],[2.5,1.6],[2.7,2.0],[2.95,2.7],[3.1,1.4],[3.3,1.9],[3.5,2.0],[3.6,2.7],[3.7,2.9],[3.8,2.5],[3.9,1.6],[4.05,1.35],[4.2,1.4],[4.5,1.38],[4.8,1.42],[5.0,1.38],[5.3,1.35],[5.5,1.9],[5.7,1.6],[5.9,1.3],[6.2,1.6],[6.5,1.4],[6.8,1.5],[7.0,1.7],[7.2,1.45],[7.5,1.3],[7.8,1.5],[8.1,2.5],[8.3,3.0],[8.5,3.2],[8.7,2.8],[8.9,3.5],[9.1,3.0],[9.3,3.1],[9.5,2.3],[9.7,1.5],[9.9,1.8],[10.1,1.4],[10.4,2.0],[10.6,2.3],[10.8,2.2],[11.0,1.8],[11.3,1.7],[11.6,1.9],[12.0,2.1],[12.3,2.3],[12.6,2.2],[12.9,2.5],[13.2,2.6],[13.5,3.0],[13.6,3.4],[13.8,2.6],[14.0,1.7],[14.2,2.2],[14.5,2.1],[14.8,1.4],[15.0,1.3],[15.2,1.8],[15.5,2.0],[15.8,2.5],[16.0,1.5],[16.3,1.4],[16.6,1.6],[17.0,1.9],[17.3,2.0],[17.6,1.9],[17.9,2.3],[18.2,2.4],[18.5,3.5],[18.7,3.2],[18.9,2.8],[19.1,2.4],[19.4,2.0],[19.7,2.2],[20.0,2.0],[20.3,1.9],[20.6,2.1],[20.9,1.8],[21.2,2.0],[21.5,1.9],[21.8,2.1],[22.1,2.4],[22.3,2.9],[22.5,3.0],[22.8,3.1],[23.0,3.0],[23.3,3.0],[23.5,2.9],[23.7,2.6],[24,2.4],
];
const LWP_PHYITER: [number, number][] = [
  [0,2.5],[0.06,2.55],[0.11,2.35],[0.16,2.45],[0.23,2.3],[0.3,2.3],[0.35,2.2],[0.41,1.9],[0.46,2.4],[0.52,2.3],[0.58,2.2],[0.63,1.6],[0.68,2.2],[0.73,2.45],[0.79,2.2],[0.84,2.1],[0.9,2.3],[0.96,2.15],[1.01,1.9],[1.07,2.4],[1.13,2.9],[1.18,2.3],[1.24,1.9],[1.29,0.5],[1.32,-0.2],[1.37,1.2],[1.41,1.3],[1.45,-0.2],[1.49,0.6],[1.55,1.0],[1.59,2.4],[1.66,2.2],[1.72,1.4],[1.77,2.3],[1.83,1.3],[1.89,2.3],[1.94,2.7],[1.98,2.9],[2.03,2.6],[2.07,1.5],[2.11,0.3],[2.15,-0.2],[2.21,1.7],[2.27,2.3],[2.32,1.7],[2.38,1.5],[2.42,2.2],[2.48,1.6],[2.55,1.7],[2.59,1.3],[2.65,2.1],[2.72,1.8],[2.78,1.8],[2.84,2.2],[2.9,2.6],[2.97,2.55],[3.01,2.0],[3.05,1.6],[3.11,1.0],[3.16,1.7],[3.22,2.2],[3.28,2.0],[3.35,1.5],[3.42,1.7],[3.48,2.3],[3.54,2.7],[3.59,2.9],[3.65,2.8],[3.7,2.4],[3.77,1.5],[3.83,0.5],[3.87,-0.2],[3.94,0.5],[4.03,0.4],[4.11,0.8],[4.19,1.3],[4.28,0.9],[4.36,0.6],[4.45,0.3],[4.5,1.0],[4.51,2.6],[4.53,1.0],[4.7,0.8],[4.83,0.7],[4.95,0.5],[5.12,0.3],[5.21,0.0],[5.29,-0.1],[5.38,0.7],[5.46,1.6],[5.52,1.4],[5.59,1.1],[5.65,1.6],[5.71,1.7],[5.78,1.3],[5.84,1.6],[5.91,0.9],[5.95,-0.2],[6.01,0.3],[6.05,-0.2],[6.12,0.8],[6.18,1.3],[6.24,1.6],[6.29,1.1],[6.35,1.2],[6.41,0.9],[6.46,-0.2],[6.51,1.5],[6.57,1.6],[6.62,2.0],[6.68,1.6],[6.74,0.4],[6.81,1.4],[6.87,1.2],[6.94,1.6],[7.0,1.1],[7.06,1.6],[7.13,1.4],[7.19,0.8],[7.23,-0.2],[7.3,0.8],[7.36,1.2],[7.42,1.4],[7.49,0.8],[7.55,1.5],[7.61,1.0],[7.67,1.5],[7.74,1.2],[7.81,1.7],[7.86,1.2],[7.92,1.4],[7.99,1.6],[8.05,2.0],[8.12,2.2],[8.18,2.5],[8.24,2.6],[8.33,2.7],[8.41,2.8],[8.5,3.2],[8.57,2.9],[8.62,2.7],[8.71,2.5],[8.77,2.3],[8.84,2.8],[8.89,3.1],[8.96,2.9],[9.02,2.8],[9.09,2.5],[9.16,2.3],[9.22,2.7],[9.27,2.2],[9.34,2.6],[9.41,2.4],[9.47,2.2],[9.53,1.9],[9.58,1.6],[9.65,1.9],[9.7,0.7],[9.75,-0.2],[9.81,0.8],[9.85,0.2],[9.89,1.2],[9.93,1.0],[10.0,1.1],[10.04,0.1],[10.1,-0.2],[10.14,1.0],[10.2,1.3],[10.25,1.0],
  [10.32,0.25],[10.38,1.2],[10.45,1.5],[10.54,2.1],[10.63,2.4],[10.77,2.5],[10.9,2.4],[11.04,2.2],[11.18,1.2],[11.2,1.15],[11.27,1.8],[11.4,1.7],[11.49,1.85],[11.63,1.85],[11.72,1.95],[11.81,1.75],[11.94,2.0],[12.08,2.1],[12.17,2.2],[12.31,2.2],[12.44,2.3],[12.53,2.1],[12.62,2.25],[12.76,2.3],[12.85,2.1],[12.98,2.3],[13.07,2.6],[13.16,2.65],[13.25,2.4],[13.35,2.3],[13.39,1.7],[13.45,2.3],[13.53,3.0],[13.6,3.2],[13.66,2.7],[13.75,2.2],[13.84,1.6],[13.93,1.75],[13.98,2.3],[14.02,0.3],[14.07,0.8],[14.14,2.3],[14.2,2.4],[14.25,1.0],[14.31,1.5],[14.41,2.4],[14.48,2.5],[14.52,2.8],[14.57,2.5],[14.66,2.0],[14.75,1.7],[14.82,0.4],[14.88,0.0],[14.97,-0.2],[15.06,-0.2],[15.11,0.9],[15.2,1.85],[15.33,2.0],[15.47,1.9],[15.56,2.3],[15.65,2.2],[15.74,2.4],[15.79,2.55],[15.88,2.2],[15.97,1.0],[16.06,-0.2],[16.15,0.8],[16.19,0.6],[16.26,1.0],[16.33,0.6],[16.42,0.7],[16.51,1.4],[16.6,1.6],[16.69,1.2],[16.78,2.1],[16.85,2.3],[16.92,1.7],[17.01,1.4],[17.1,1.5],[17.19,1.9],[17.28,2.3],[17.37,1.4],[17.41,0.7],[17.5,2.1],[17.59,2.5],[17.67,1.2],[17.73,2.7],[17.82,2.2],[17.91,1.4],[17.97,0.9],[18.05,2.6],[18.12,2.2],[18.21,2.4],[18.27,2.0],[18.32,2.2],[18.39,2.3],[18.45,3.3],[18.54,3.0],[18.63,2.8],[18.73,2.9],[18.82,2.6],[18.91,2.3],[19.0,2.4],[19.09,2.1],[19.18,1.75],[19.27,2.0],[19.36,2.1],[19.45,0.5],[19.49,0.6],[19.54,2.1],[19.58,1.1],[19.67,1.4],[19.76,2.3],[19.86,2.4],[19.93,2.4],[19.99,1.6],[20.04,1.4],[20.13,1.8],[20.22,2.1],[20.29,1.8],[20.38,1.6],[20.47,2.0],[20.55,3.3],[20.6,1.8],[20.67,1.0],[20.74,0.9],[20.8,1.8],[20.9,2.0],[20.99,1.7],[21.08,1.5],[21.17,1.9],[21.26,1.8],[21.32,2.3],[21.39,1.8],[21.48,1.4],[21.55,2.5],[21.62,1.6],[21.71,1.9],[21.8,1.9],[21.89,2.5],[21.95,2.4],[22.03,1.5],[22.07,2.2],[22.16,2.5],[22.25,2.9],[22.34,3.0],[22.43,2.9],[22.52,3.1],[22.57,3.5],[22.61,3.0],[22.7,2.9],[22.79,2.8],[22.93,3.1],[22.97,2.9],[23.07,2.9],[23.16,3.2],[23.25,2.9],[23.34,2.75],[23.43,2.9],[23.52,2.75],[23.65,2.6],[23.74,2.45],[23.83,2.55],[23.92,2.4],[24.0,2.3],
];
const LWP_ADIABATIC: [number, number][] = [
  [0,2.6],[0.06,2.55],[0.13,2.75],[0.19,2.5],[0.23,2.3],[0.31,2.2],[0.4,2.15],[0.44,1.9],[0.52,2.45],[0.58,2.1],[0.63,1.8],[0.69,2.4],[0.76,2.2],[0.8,2.75],[0.84,2.6],[0.9,2.7],[0.95,2.2],[1.0,2.1],[1.05,2.4],[1.09,3.0],[1.14,3.15],[1.19,2.5],[1.24,2.0],[1.29,1.2],[1.34,1.9],[1.38,1.4],[1.43,2.6],[1.48,1.1],[1.54,1.5],[1.58,2.9],[1.63,2.6],[1.68,3.0],[1.72,2.3],[1.76,3.0],[1.81,1.4],[1.87,2.7],[1.92,3.0],[1.98,3.15],[2.04,2.5],[2.08,1.5],[2.14,1.1],[2.19,1.1],[2.24,2.2],[2.3,2.1],[2.35,2.4],[2.41,1.9],[2.46,2.3],[2.52,2.2],[2.57,1.6],[2.63,2.3],[2.69,2.0],[2.74,1.8],[2.8,2.6],[2.86,2.8],[2.93,2.9],[2.99,3.0],[3.05,2.4],[3.1,1.3],[3.17,1.6],[3.22,2.4],[3.27,2.3],[3.32,2.0],[3.38,1.8],[3.43,2.6],[3.48,2.8],[3.54,3.0],[3.59,3.1],[3.65,3.2],[3.69,3.25],[3.74,2.6],[3.8,2.1],[3.86,1.1],[3.91,1.3],[3.96,1.5],[4.01,1.3],[4.07,3.1],[4.13,1.3],[4.2,1.2],[4.28,1.2],[4.45,1.15],[4.7,1.15],[4.95,1.15],[4.99,1.9],[5.04,1.15],[5.21,1.15],[5.38,1.15],[5.46,1.4],[5.52,1.2],[5.59,1.8],[5.65,1.3],[5.71,1.9],[5.8,1.8],[5.86,1.1],[5.92,1.1],[6.01,1.3],[6.07,1.9],[6.14,1.2],[6.22,1.6],[6.27,2.2],[6.33,1.2],[6.39,1.5],[6.46,1.6],[6.52,2.3],[6.57,1.5],[6.62,2.5],[6.68,2.5],[6.74,1.5],[6.79,4.5],[6.83,1.3],[6.9,1.6],[6.96,1.3],[7.02,1.6],[7.08,1.2],[7.15,1.5],[7.21,4.5],[7.25,1.2],[7.32,1.3],[7.4,1.1],[7.49,1.1],[7.57,1.7],[7.63,2.0],[7.7,1.3],[7.76,2.3],[7.81,1.6],[7.87,1.3],[7.92,2.5],[7.97,3.0],[8.02,2.0],[8.08,1.6],[8.16,2.4],[8.24,2.9],[8.31,3.2],[8.38,3.3],[8.46,3.4],[8.51,3.3],[8.58,3.3],[8.65,3.2],[8.71,3.0],[8.77,2.8],[8.84,3.2],[8.9,3.5],[8.96,3.2],[9.02,3.0],[9.09,2.0],[9.16,3.2],[9.22,3.4],[9.27,3.0],[9.34,2.6],[9.41,2.4],[9.47,2.3],[9.53,2.0],[9.6,1.6],[9.66,2.9],[9.72,1.2],[9.78,1.5],[9.83,1.8],[9.89,1.4],[9.95,2.0],[10.0,1.0],[10.06,2.7],[10.1,1.1],[10.17,1.3],[10.23,2.2],
  [10.38,2.7],[10.45,1.8],[10.54,2.25],[10.63,2.3],[10.72,2.5],[10.81,2.9],[10.88,2.45],[10.99,2.3],[11.08,2.1],[11.18,1.3],[11.27,2.1],[11.34,1.4],[11.4,1.9],[11.49,2.1],[11.58,1.9],[11.67,2.0],[11.76,1.65],[11.85,1.9],[11.94,2.0],[12.03,2.1],[12.17,1.7],[12.21,2.3],[12.31,2.5],[12.37,2.6],[12.44,2.45],[12.53,1.1],[12.62,2.3],[12.71,2.6],[12.8,2.2],[12.89,2.6],[12.98,2.4],[13.03,2.0],[13.12,2.6],[13.21,2.9],[13.3,2.8],[13.39,3.0],[13.48,3.4],[13.53,3.6],[13.62,3.4],[13.71,2.5],[13.78,1.4],[13.84,2.8],[13.89,2.2],[13.96,1.4],[14.05,3.0],[14.11,2.6],[14.17,2.5],[14.25,2.9],[14.29,1.6],[14.39,2.5],[14.48,2.3],[14.57,1.7],[14.66,2.1],[14.72,1.7],[14.79,1.5],[14.84,1.2],[14.93,1.1],[15.02,1.1],[15.11,1.6],[15.2,2.1],[15.29,2.1],[15.38,2.2],[15.47,2.3],[15.53,2.8],[15.61,3.0],[15.65,2.6],[15.7,1.6],[15.79,2.8],[15.85,3.0],[15.92,2.0],[16.01,1.4],[16.1,1.3],[16.24,1.3],[16.31,4.5],[16.35,1.3],[16.42,1.3],[16.49,1.1],[16.56,1.3],[16.65,1.4],[16.71,2.2],[16.76,1.4],[16.82,2.3],[16.87,2.6],[16.92,1.6],[16.98,1.5],[17.05,2.7],[17.12,1.3],[17.19,3.2],[17.23,1.7],[17.31,2.8],[17.35,1.1],[17.41,2.0],[17.5,2.6],[17.58,3.0],[17.64,2.0],[17.69,3.1],[17.76,1.5],[17.82,1.4],[17.88,2.7],[17.94,1.9],[18.0,2.9],[18.07,2.5],[18.14,3.2],[18.21,3.3],[18.27,3.3],[18.32,3.35],[18.39,3.45],[18.45,3.6],[18.52,3.4],[18.59,3.5],[18.66,3.2],[18.73,3.0],[18.79,3.1],[18.86,2.9],[18.93,2.9],[19.0,2.3],[19.04,1.8],[19.11,2.4],[19.18,2.2],[19.22,3.0],[19.28,4.2],[19.31,2.1],[19.36,1.4],[19.42,3.0],[19.49,2.3],[19.58,2.2],[19.67,3.0],[19.72,3.3],[19.78,2.5],[19.86,3.2],[19.93,3.3],[19.99,2.9],[20.05,2.5],[20.13,2.5],[20.17,1.5],[20.22,2.8],[20.29,2.6],[20.35,2.5],[20.42,1.8],[20.49,1.1],[20.55,2.7],[20.62,1.2],[20.69,1.5],[20.74,2.2],[20.81,4.5],[20.85,2.5],[20.92,2.5],[20.99,1.4],[21.05,2.6],[21.12,2.6],[21.21,2.4],[21.28,2.8],[21.35,2.9],[21.41,1.9],[21.48,2.6],[21.55,1.1],[21.62,2.8],[21.68,2.8],[21.75,2.9],[21.83,2.9],[21.89,3.7],[21.95,3.8],[22.0,1.7],[22.07,3.6],[22.13,3.8],[22.21,3.9],[22.3,3.8],[22.39,3.9],[22.48,3.6],[22.57,3.6],[22.64,3.7],[22.7,3.9],[22.75,3.5],[22.82,4.2],[22.88,4.1],[22.93,3.9],[23.02,4.0],[23.11,3.9],[23.2,3.9],[23.29,3.6],[23.38,3.5],[23.47,3.9],[23.52,3.4],[23.61,3.6],[23.7,3.0],[23.76,3.4],[23.83,3.8],[23.88,3.3],[23.94,3.5],[24.0,3.2],
];
const LWP_ADIABATIC_X: [number, number][] = [[4.65,1.2],[4.75,1.2],[5.3,1.12],[22.45,3.84]];
const LWP_PHYITER_X: [number, number][] = [[4.7,0.97],[4.8,0.9],[5.25,0.0]];
const LWP_CYAN: [number, number][] = [
  [0.14,0.21],[1.1,1.27],[1.94,2.08],[3.01,3.11],[3.55,3.62],[3.67,3.81],[4.08,4.15],[8.24,8.37],[8.39,8.72],[8.86,9.18],[9.2,9.32],[13.21,13.28],[13.51,13.91],[15.88,15.99],[16.8,16.83],[17.18,17.2],[17.3,17.38],[18.46,18.96],[19.57,19.59],[19.73,19.83],[20.54,20.56],[21.54,21.56],[22.2,22.82],[22.84,23.12],[23.14,23.79],
];
const LWP_GREY: [number, number][] = [
  [1.41,1.51],[1.8,1.82],[2.17,2.19],[3.83,3.88],[3.95,4.05],[4.2,4.24],[4.4,4.93],[4.96,5.43],[5.92,5.96],[6.0,6.04],[6.08,6.1],[7.23,7.28],[7.35,7.4],[7.48,7.53],[9.76,9.78],[9.9,9.92],[10.05,10.07],[10.17,10.19],[10.3,10.32],[14.85,14.87],[14.93,14.97],[15.0,15.04],[16.24,16.26],[16.32,16.35],[16.42,16.47],[17.0,17.03],[17.1,17.13],[17.58,17.6],[17.9,17.93],[19.25,19.27],[19.32,19.34],[19.39,19.42],[19.46,19.5],[20.8,20.82],[21.0,21.02],
];
const LWP_YELLOW: [number, number][] = [[4.935,4.955]];

// ---- panel 5: Phy-Iter data quality flag (time spans per flag value) ----
const DQ_TICKS = [0, 2, 4, 6, 8, 10];
const FLAG_0: [number, number][] = [[0,1.08],[1.3,1.88],[2.15,3.02],[3.16,3.58],[3.64,3.7],[3.87,3.88],[4.0,4.01],[4.24,4.41],[5.0,5.14],[5.44,8.26],[8.4,8.41],[8.72,8.89],[9.2,9.21],[9.38,13.21],[13.29,13.5],[13.94,18.48],[18.95,22.2],[23.77,24]];
const FLAG_3: [number, number][] = [[1.33,1.45],[3.14,3.15],[3.83,4.04],[4.43,4.92],[5.08,5.09],[5.19,5.42],[6.1,6.11],[8.04,8.05],[9.83,9.84],[10.41,10.42],[17.86,17.87]];
const FLAG_4: [number, number][] = [[1.45,1.52],[1.81,1.82],[2.09,2.21],[2.62,2.63],[3.11,3.12],[3.87,4.0],[4.21,4.22],[4.46,4.47],[4.66,4.67],[4.75,4.76],[4.88,4.95],[5.0,5.1],[5.15,5.25],[5.42,5.43],[5.93,6.06],[6.4,6.41],[6.71,6.72],[6.82,6.83],[6.93,6.94],[7.21,7.7],[9.78,9.79],[10.0,10.01],[10.1,10.11],[10.19,10.2],[10.39,10.4],[12.57,12.58],[13.78,13.79],[14.05,14.06],[14.85,15.07],[16.06,16.07],[16.25,16.5],[16.99,17.45],[17.52,17.53],[17.63,17.64],[17.89,17.9],[19.27,19.66],[20.73,20.74],[20.98,20.99],[21.56,21.57]];
const FLAG_5: [number, number][] = [[4.95,4.97]];
const FLAG_6: [number, number][] = [[0.76,0.77],[1.03,1.04],[1.11,1.12],[3.19,3.2],[4.14,4.15],[6.84,6.85],[7.23,7.24],[8.43,8.56],[8.9,9.04],[9.38,9.39],[10.66,10.67],[13.5,13.75],[16.32,16.33],[17.57,17.58],[18.45,18.99],[19.54,19.55],[20.14,20.15],[20.56,20.57],[20.9,20.91],[21.56,21.57],[22.2,23.77]];
const FLAG_7: [number, number][] = [[8.53,8.54],[8.9,9.1],[13.53,13.75],[18.5,18.99],[19.54,19.55],[20.56,20.57],[21.56,21.57],[22.36,23.77]];
const FLAG_9: [number, number][] = [[1.11,1.12],[2.01,2.02],[8.31,8.32],[8.45,8.46],[8.9,8.91],[13.53,13.54],[17.31,17.32],[18.5,18.51],[18.78,18.79],[22.5,22.51],[22.89,22.9]];
const FLAG_10: [number, number][] = [[0.12,0.13],[1.1,1.25],[1.93,2.06],[3.02,3.03],[3.53,3.58],[3.68,3.75],[4.09,4.1],[8.23,8.67],[8.89,9.07],[9.24,9.25],[13.21,13.33],[13.5,13.72],[15.9,15.91],[16.82,16.83],[17.17,17.22],[17.3,17.39],[18.45,18.87],[19.71,19.83],[22.2,22.7],[22.84,23.63],[23.99,24]];
const FLAG_11: [number, number][] = [[0.12,0.24],[1.08,1.3],[1.89,2.11],[2.99,3.13],[3.53,3.84],[4.04,4.17],[8.23,8.77],[8.85,9.36],[13.21,13.29],[13.5,13.92],[15.86,16.0],[16.82,16.83],[17.17,17.22],[17.3,17.39],[18.45,18.99],[19.54,19.55],[19.71,19.83],[20.56,20.57],[21.56,21.57],[22.2,23.78]];
const FLAGS: [number, [number, number][]][] = [
  [0, FLAG_0], [3, FLAG_3], [4, FLAG_4], [5, FLAG_5], [6, FLAG_6], [7, FLAG_7], [9, FLAG_9], [10, FLAG_10], [11, FLAG_11],
];

const pts = (a: [number, number][]) => a.map(([t, v]) => ({ t, v }));
// each span becomes a flat segment, with a null point to break the line between spans
const spans = (a: [number, number][], level: number) =>
  a.flatMap(([s, e]) => [{ t: s, v: level }, { t: e, v: level }, { t: e, v: null }]);

type Series = { data: { t: number; v: number | null }[]; color: string; width: number; cap?: "round" | "butt" };
type Band = { spans: [number, number][]; color: string };

function XTick(props: any) {
  const { x, payload } = props;
  return (
    <g>
      <line x1={x} x2={x} y1={BOTTOM} y2={BOTTOM - 27} stroke={DARK} strokeWidth={2} />
      <text x={x} y={BOTTOM + 65} textAnchor="middle" fill={DARK} fontSize={38} fontFamily={FONT}>
        {String(payload.value)}
      </text>
    </g>
  );
}

function YTick(props: any) {
  const { y, payload } = props;
  return (
    <g>
      <line x1={LEFT} x2={LEFT + 28} y1={y} y2={y} stroke={AXIS_BLUE} strokeWidth={2} />
      <text x={LEFT - 30} y={y + 14} textAnchor="end" fill={AXIS_BLUE} fontSize={38} fontFamily={FONT}>
        {String(payload.value)}
      </text>
    </g>
  );
}

function XMark(props: any) {
  const { cx, cy, fill } = props;
  const r = 11;
  return (
    <path
      d={`M${cx - r},${cy - r}L${cx + r},${cy + r}M${cx - r},${cy + r}L${cx + r},${cy - r}`}
      stroke={fill}
      strokeWidth={6}
    />
  );
}

function PanelChart({ k, domain, ticks, series, marks }: {
  k: number; domain: [number, number]; ticks: number[]; series: Series[];
  marks?: { data: [number, number][]; color: string }[];
}) {
  return (
    <div style={{ position: "absolute", left: 0, top: k * STEP }}>
      <ComposedChart width={W} height={CHART_H} margin={MARGIN}>
        <XAxis dataKey="t" type="number" domain={[0, 24]} ticks={X_TICKS} interval={0} allowDataOverflow
          height={X_AXIS_H} tickLine={false} axisLine={{ stroke: DARK, strokeWidth: 2.5 }} tick={<XTick />} />
        <YAxis dataKey="v" type="number" domain={domain} ticks={ticks} interval={0} allowDataOverflow
          width={Y_AXIS_W} tickLine={false} axisLine={{ stroke: AXIS_BLUE, strokeWidth: 2 }} tick={<YTick />} />
        <ReferenceLine x={24} stroke={AXIS_BLUE} strokeWidth={2} />
        {series.map((s, i) => (
          <Line key={i} data={s.data} dataKey="v" type="linear" stroke={s.color} strokeWidth={s.width}
            strokeLinejoin="round" strokeLinecap={s.cap ?? "butt"} dot={false} activeDot={false}
            connectNulls={false} isAnimationActive={false} />
        ))}
        {(marks ?? []).map((m, i) => (
          <Scatter key={`m${i}`} data={pts(m.data)} dataKey="v" fill={m.color} shape={<XMark />} isAnimationActive={false} />
        ))}
      </ComposedChart>
    </div>
  );
}

function BandOverlay({ k, domain, bands }: { k: number; domain: [number, number]; bands: Band[] }) {
  return (
    <div style={{ position: "absolute", left: 0, top: k * STEP }}>
      <ComposedChart width={W} height={CHART_H} margin={OVERLAY_MARGIN}>
        <XAxis dataKey="t" type="number" domain={[0, 24]} hide allowDataOverflow />
        <YAxis dataKey="v" type="number" domain={domain} hide allowDataOverflow />
        <Line data={[{ t: 0, v: domain[0] }, { t: 24, v: domain[0] }]} dataKey="v" stroke="none" dot={false} activeDot={false} isAnimationActive={false} />
        {bands.flatMap((b, j) =>
          b.spans.map(([s, e], i) => (
            <ReferenceArea key={`${j}-${i}`} x1={s} x2={e} fill={b.color} fillOpacity={0.5} stroke="none" />
          ))
        )}
      </ComposedChart>
    </div>
  );
}

type LegendRow = { text: string; color?: string; width?: number };
const LEGENDS: { x1: number; x2: number; tx: number; y0: number; dy: number; rows: LegendRow[] }[] = [
  { x1: 626, x2: 860, tx: 885, y0: 394, dy: 58.5, rows: [
    { text: "MWR 2C (tan = wet window)", color: BLUE, width: 4 },
    { text: "MWR 3C", color: LIGHT, width: 6 },
    { text: "Phy-Iter", color: ORANGE, width: 10 },
  ] },
  { x1: 492, x2: 727, tx: 751, y0: 1518 , dy: 59, rows: [
    { text: "MWR2C", color: BLUE, width: 4 },
    { text: "MWR 3C", color: LIGHT, width: 6 },
    { text: "Phy-Iter", color: ORANGE, width: 10 },
  ] },
  { x1: 454, x2: 688, tx: 712, y0: 2660, dy: 56.5, rows: [
    { text: "MWR 2C PWV", color: BLUE, width: 4 },
    { text: "MWR 3C PWV", color: LIGHT, width: 6 },
    { text: "Phy-Iter PWV" },
    { text: "(tan = MWR 2C only)", color: ORANGE, width: 10 },
    { text: "(brown = MWR 3C only)" },
  ] },
  { x1: 548, x2: 783, tx: 807, y0: 3736, dy: 58, rows: [
    { text: "MWR 2C LWP", color: BLUE, width: 4 },
    { text: "MWR 3C LWP", color: LIGHT, width: 6 },
    { text: "Phy-Iter LWP", color: ORANGE, width: 10 },
    { text: "Adiabatic LWP", color: PURPLE, width: 5 },
  ] },
];

const Y_LABEL_X = [217, 215, 266, 238, 242];

function TextLayer() {
  const midY = TOP + PLOT_H / 2;
  const labelStyle = { fontFamily: FONT, fontSize: 46 };
  return (
    <svg width={W} height={6000} style={{ position: "absolute", left: 0, top: 0, pointerEvents: "none" }}>
      {[0, 1, 2, 3, 4].map((k) => {
        const cx = Y_LABEL_X[k] + 17;
        const cy = midY + k * STEP;
        return (
          <g key={k}>
            <text x={(LEFT + RIGHT_EDGE) / 2} y={BOTTOM + 131 + k * STEP} textAnchor="middle" fill={DARK} {...labelStyle}>
              UTC hours on 20240910
            </text>
            <text x={cx} y={cy} textAnchor="middle" fill={AXIS_BLUE} transform={`rotate(-90 ${cx} ${cy})`} {...labelStyle}>
              {k === 0 && "Zenith BT 23 GHz, K"}
              {k === 1 && "Zenith BT 31 GHz, K"}
              {k === 2 && "Precip. Water Vapor, mm"}
              {k === 3 && (
                <>
                  <tspan>log10 Liquid Water Path, log10(g/m</tspan>
                  <tspan dy={-17} fontSize={32}>2</tspan>
                  <tspan dy={17}> )</tspan>
                </>
              )}
              {k === 4 && "MWR Phy Iter DQ Flag"}
            </text>
          </g>
        );
      })}
      {LEGENDS.map((lg, j) => (
        <g key={`lg${j}`}>
          {lg.rows.map((r, i) => {
            const y = lg.y0 + i * lg.dy;
            return (
              <g key={i}>
                {r.color && <line x1={lg.x1} x2={lg.x2} y1={y} y2={y} stroke={r.color} strokeWidth={r.width} />}
                <text x={lg.tx} y={y + 13} fill="#000" fontFamily={FONT} fontSize={38}>{r.text}</text>
              </g>
            );
          })}
        </g>
      ))}
    </svg>
  );
}

const D1: [number, number] = [18.9, 146.8];
const D2: [number, number] = [8.7, 172.7];
const D3: [number, number] = [0.73, 7.67];
const D4: [number, number] = [-0.1, 4.5];
const D5: [number, number] = [-0.5, 11.5];

export default function App() {
  return (
    <div style={{ position: "absolute", left: 0, top: 0, width: W, height: 6000, background: "#fff" }}>
      <PanelChart k={0} domain={D1} ticks={BT23_TICKS} series={[
        { data: pts(BT23_MWR2C), color: BLUE, width: 4 },
        { data: pts(BT23_MWR3C), color: LIGHT, width: 6 },
        { data: pts(BT23_PHYITER), color: ORANGE, width: 10 },
      ]} />
      <BandOverlay k={0} domain={D1} bands={[{ spans: WET_WINDOW, color: "#D2B48C" }]} />

      <PanelChart k={1} domain={D2} ticks={BT31_TICKS} series={[
        { data: pts(BT31_MWR2C), color: BLUE, width: 4 },
        { data: pts(BT31_MWR3C), color: LIGHT, width: 6 },
        { data: pts(BT31_PHYITER), color: ORANGE, width: 9 },
      ]} />

      <PanelChart k={2} domain={D3} ticks={PWV_TICKS} series={[
        { data: pts(PWV_MWR2C), color: BLUE, width: 4 },
        { data: pts(PWV_MWR3C), color: LIGHT, width: 6 },
        { data: pts(PWV_PHYITER), color: ORANGE, width: 10 },
      ]} />
      <BandOverlay k={2} domain={D3} bands={[
        { spans: PWV_TAN, color: "#D2B48C" },
        { spans: PWV_BROWN, color: "#A52A2A" },
      ]} />

      <PanelChart k={3} domain={D4} ticks={LWP_TICKS} series={[
        { data: pts(LWP_MWR2C), color: BLUE, width: 4 },
        { data: pts(LWP_MWR3C), color: LIGHT, width: 6 },
        { data: pts(LWP_PHYITER), color: ORANGE, width: 10 },
        { data: pts(LWP_ADIABATIC), color: PURPLE, width: 5 },
      ]} marks={[
        { data: LWP_PHYITER_X, color: "#F4A460" },
        { data: LWP_ADIABATIC_X, color: "#A569A5" },
      ]} />
      <BandOverlay k={3} domain={D4} bands={[
        { spans: LWP_GREY, color: "#D3D3D3" },
        { spans: LWP_YELLOW, color: "#FFFF00" },
        { spans: LWP_CYAN, color: "#00FFFF" },
      ]} />

      <PanelChart k={4} domain={D5} ticks={DQ_TICKS} series={FLAGS.map(([level, s]) => ({
        data: spans(s, level), color: ORANGE, width: 11, cap: "round" as const,
      }))} />

      <TextLayer />
    </div>
  );
}
